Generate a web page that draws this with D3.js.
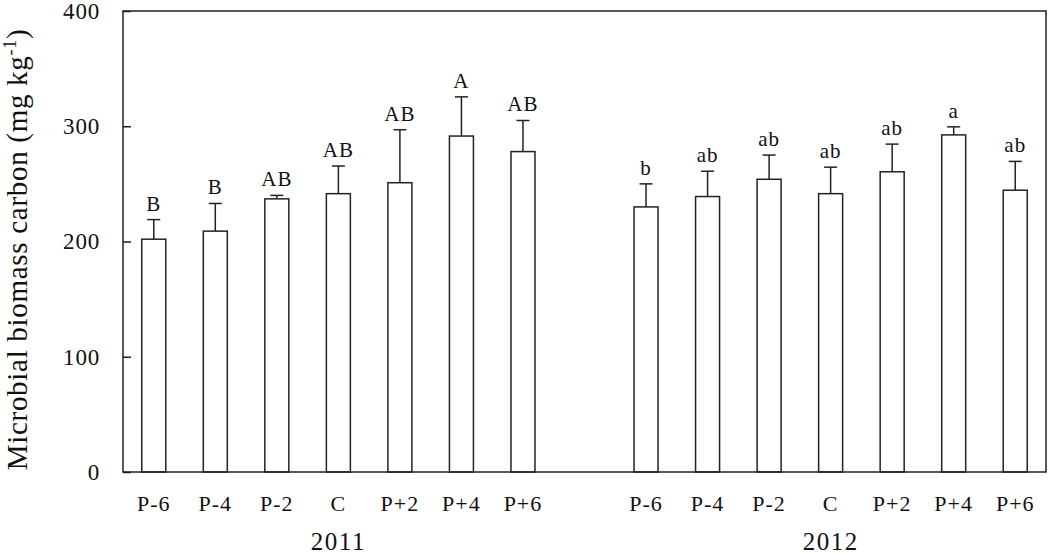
<!DOCTYPE html>
<html><head><meta charset="utf-8">
<script src="https://cdn.jsdelivr.net/npm/d3@7/dist/d3.min.js"></script>
<style>body{margin:0;background:#fff}svg{display:block}text{font-family:"Liberation Serif","Times New Roman",serif;fill:#111}</style>
</head><body>
<svg id="c" width="1050" height="554"></svg>
<script>
const treatments = ["P-6","P-4","P-2","C","P+2","P+4","P+6"];
const years = ["2011","2012"];
const values2011 = [202, 209, 237, 241.5, 251, 291.5, 278];
const errors2011 = [17, 24, 3, 24, 46, 34, 27];
const letters2011 = ["B","B","AB","AB","AB","A","AB"];
const values2012 = [230, 239, 254, 241.5, 260.5, 292.5, 244.5];
const errors2012 = [20, 22, 21, 23, 24, 7, 25];
const letters2012 = ["b","ab","ab","ab","ab","a","ab"];
const yTicks = [0, 100, 200, 300, 400];

const svg = d3.select("#c");
const L = 123, R = 1046, T = 11, B = 472;
const rows = [];
years.forEach((yr, yi) => {
  const v = yi === 0 ? values2011 : values2012;
  const e = yi === 0 ? errors2011 : errors2012;
  const l = yi === 0 ? letters2011 : letters2012;
  treatments.forEach((t, i) => rows.push({key: yr + "|" + t, year: yr, t, v: v[i], e: e[i], l: l[i]}));
});
const domain = rows.slice(0, 7).map(d => d.key).concat(["gap"], rows.slice(7).map(d => d.key));
const x = d3.scaleBand().domain(domain).range([L, R]).paddingInner(0.61).paddingOuter(0.305);
const y = d3.scaleLinear().domain([0, 400]).range([B, T]);

// y axis ticks (inward)
const ya = svg.append("g").attr("transform", `translate(${L},0)`)
  .call(d3.axisLeft(y).tickValues(yTicks).tickSize(-8).tickPadding(23).tickFormat(d3.format("d")));
ya.select(".domain").remove();
ya.selectAll("line").attr("stroke", "#222").attr("stroke-width", 1.5);
ya.selectAll("text").attr("font-size", 23).attr("letter-spacing", 0.8).attr("fill", "#111").attr("font-family", "Liberation Serif");

// bars
const g = svg.append("g");
g.selectAll("rect.bar").data(rows).join("rect").attr("class", "bar")
  .attr("x", d => x(d.key)).attr("width", x.bandwidth())
  .attr("y", d => y(d.v)).attr("height", d => y(0) - y(d.v))
  .attr("fill", "#fff").attr("stroke", "#222").attr("stroke-width", 1.5);
// error bars
g.selectAll("line.err").data(rows).join("line").attr("class", "err")
  .attr("x1", d => x(d.key) + x.bandwidth() / 2).attr("x2", d => x(d.key) + x.bandwidth() / 2)
  .attr("y1", d => y(d.v)).attr("y2", d => y(d.v + d.e))
  .attr("stroke", "#222").attr("stroke-width", 1.5);
g.selectAll("line.cap").data(rows).join("line").attr("class", "cap")
  .attr("x1", d => x(d.key) + x.bandwidth() / 2 - 6.5).attr("x2", d => x(d.key) + x.bandwidth() / 2 + 6.5)
  .attr("y1", d => y(d.v + d.e)).attr("y2", d => y(d.v + d.e))
  .attr("stroke", "#222").attr("stroke-width", 1.5);
g.selectAll("text.let").data(rows).join("text").attr("class", "let")
  .attr("x", d => x(d.key) + x.bandwidth() / 2).attr("y", d => y(d.v + d.e) - 9)
  .attr("text-anchor", "middle").attr("font-size", 21).attr("letter-spacing", 1).text(d => d.l);

// frame
svg.append("rect").attr("x", L).attr("y", T).attr("width", R - L).attr("height", B - T)
  .attr("fill", "none").attr("stroke", "#222").attr("stroke-width", 1.5);

// x labels
svg.selectAll("text.xl").data(rows).join("text").attr("class", "xl")
  .attr("x", d => x(d.key) + x.bandwidth() / 2).attr("y", 510.5)
  .attr("text-anchor", "middle").attr("font-size", 22).attr("letter-spacing", 1).text(d => d.t);
svg.selectAll("text.yr").data(years).join("text").attr("class", "yr")
  .attr("x", yr => x(yr + "|C") + x.bandwidth() / 2).attr("y", 550)
  .attr("text-anchor", "middle").attr("font-size", 25).attr("letter-spacing", 1.5).text(d => d);

// y title
const yt = svg.append("text").attr("transform", `translate(27,${(T + B) / 2 + 8}) rotate(-90)`)
  .attr("text-anchor", "middle").attr("font-size", 29).attr("letter-spacing", 0.7);
yt.append("tspan").text("Microbial biomass carbon (mg kg");
yt.append("tspan").attr("font-size", 18).attr("dy", -11).text("-1");
yt.append("tspan").attr("dy", 11).text(")");
</script>
</body></html>
